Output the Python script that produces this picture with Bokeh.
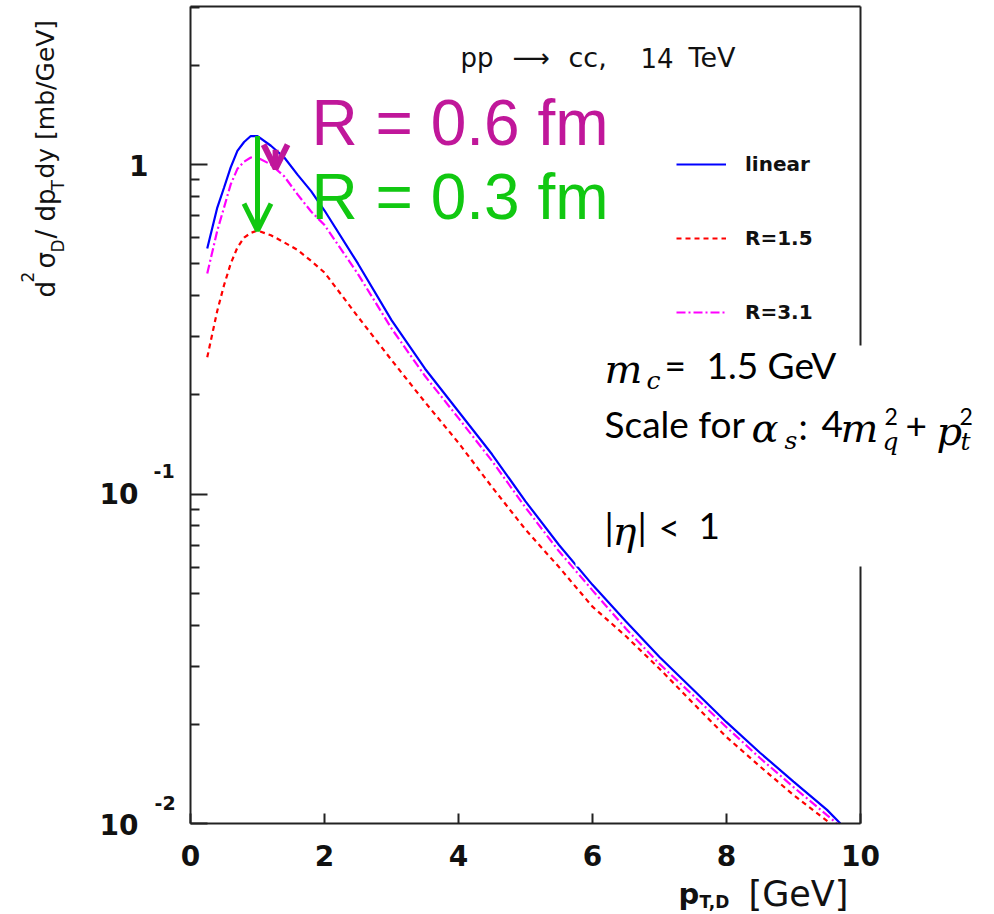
import numpy as np
from bokeh.plotting import figure
from bokeh.models import (Label, Arrow, OpenHead, Legend, LegendItem, BoxAnnotation,
                          FixedTicker, LinearAxis, LogAxis, Range1d)
from bokeh.embed import file_html
from bokeh.resources import INLINE

# ---------------- data ----------------
pt_linear = [0.25, 0.4, 0.5, 0.6, 0.7, 0.8, 0.9, 1.0, 1.2, 1.4, 1.6, 1.8, 2.0, 2.5,
             3.0, 3.5, 4.0, 4.5, 5.0, 5.5, 6.0, 6.5, 7.0, 7.5, 8.0, 8.5, 9.0, 9.5, 9.7]
sig_linear = [0.556, 0.74, 0.85, 0.98, 1.10, 1.17, 1.22, 1.22, 1.14, 1.05, 0.93, 0.83,
              0.725, 0.50, 0.337, 0.24, 0.178, 0.132, 0.095, 0.070, 0.053, 0.041,
              0.032, 0.0255, 0.0203, 0.0164, 0.0134, 0.0110, 0.0100]

pt_r15 = [0.25, 0.4, 0.5, 0.6, 0.7, 0.8, 0.9, 1.0, 1.2, 1.4, 1.6, 1.8, 2.0, 2.5,
          3.0, 3.5, 4.0, 4.5, 5.0, 5.5, 6.0, 6.5, 7.0, 7.5, 8.0, 8.5, 9.0, 9.55]
sig_r15 = [0.26, 0.36, 0.43, 0.50, 0.56, 0.60, 0.62, 0.63, 0.61, 0.58, 0.55, 0.51,
           0.47, 0.345, 0.255, 0.19, 0.143, 0.105, 0.078, 0.060, 0.0455, 0.037,
           0.0295, 0.0232, 0.0183, 0.0149, 0.0122, 0.0100]

pt_r31 = [0.25, 0.4, 0.5, 0.6, 0.7, 0.8, 0.9, 1.0, 1.2, 1.4, 1.6, 1.8, 2.0, 2.5,
          3.0, 3.5, 4.0, 4.5, 5.0, 5.5, 6.0, 6.5, 7.0, 7.5, 8.0, 8.5, 9.0, 9.5, 9.65]
sig_r31 = [0.467, 0.63, 0.74, 0.87, 0.97, 1.02, 1.05, 1.05, 1.00, 0.92, 0.81, 0.72,
           0.655, 0.465, 0.318, 0.228, 0.170, 0.126, 0.091, 0.067, 0.051, 0.039,
           0.0305, 0.0245, 0.0196, 0.0158, 0.0129, 0.0106, 0.0100]

legend_labels = ["linear", "R=1.5", "R=3.1"]
x_ticks = [0, 2, 4, 6, 8, 10]
y_major = [0.01, 0.1, 1.0]
x_lo, x_hi = 0.0, 10.0
y_lo, y_hi = 0.01, 3.02

# ---------------- geometry ----------------
W, H = 994, 914
PX_X0, PX_X10 = 190, 860        # pixel of x = 0 and x = 10
PX_Y_LO, PX_Y_1 = 823, 164      # pixel of y = 0.01 and y = 1
kx = (PX_X10 - PX_X0) / (x_hi - x_lo)
ky = (PX_Y_LO - PX_Y_1) / 2.0   # px per decade

x_range = Range1d(x_lo - PX_X0 / kx, x_lo + (W - PX_X0) / kx)
y_range = Range1d(10 ** (np.log10(y_lo) - (H - PX_Y_LO) / ky),
                  10 ** (np.log10(y_lo) + PX_Y_LO / ky))

p = figure(width=W, height=H, x_range=x_range, y_range=y_range,
           y_axis_type="log", x_axis_location=None, y_axis_location=None,
           output_backend="svg", toolbar_location=None,
           min_border=0, min_border_left=0, min_border_right=0,
           min_border_top=0, min_border_bottom=0)
p.grid.visible = False
p.outline_line_alpha = 0
p.background_fill_color = "white"
p.border_fill_color = "white"

AX = "#222222"
FONT = "DejaVu Sans"


def style_axis(ax):
    ax.axis_line_color = AX
    ax.axis_line_width = 2
    ax.major_tick_line_color = AX
    ax.major_tick_line_width = 2
    ax.minor_tick_line_color = AX
    ax.minor_tick_line_width = 2
    ax.major_tick_out = 0
    ax.minor_tick_out = 0


# bottom axis
xaxis = LinearAxis(ticker=FixedTicker(ticks=x_ticks, minor_ticks=[]),
                   fixed_location=y_lo, bounds=(x_lo, x_hi))
style_axis(xaxis)
xaxis.major_tick_in = 10
xaxis.major_label_text_font = FONT
xaxis.major_label_text_font_style = "bold"
xaxis.major_label_text_font_size = "28px"
xaxis.major_label_text_color = "#111111"
xaxis.major_label_standoff = 21
p.add_layout(xaxis, "below")

# left axis
minor_y = [m * d for d in y_major for m in range(2, 10) if m * d <= y_hi]
yaxis = LogAxis(ticker=FixedTicker(ticks=y_major, minor_ticks=minor_y),
                fixed_location=x_lo, bounds=(y_lo, y_hi))
style_axis(yaxis)
yaxis.major_tick_in = 17
yaxis.minor_tick_in = 9
yaxis.major_label_text_font_size = "0px"
yaxis.major_label_text_alpha = 0
p.add_layout(yaxis, "left")

# top and right frame lines (plain axes)
for loc, side, bnds, cls in ((y_hi, "above", (x_lo, x_hi), LinearAxis),
                             (x_hi, "right", (y_lo, y_hi), LogAxis)):
    ax = cls(ticker=FixedTicker(ticks=[], minor_ticks=[]), fixed_location=loc,
             bounds=bnds)
    style_axis(ax)
    ax.major_tick_in = 0
    ax.minor_tick_in = 0
    ax.major_label_text_font_size = "0px"
    p.add_layout(ax, side)

# ---------------- curves ----------------
r_lin = p.line(pt_linear, sig_linear, line_color="#0000ff", line_width=2.2)
r_15 = p.line(pt_r15, sig_r15, line_color="#ff0000", line_width=2.2, line_dash="5 4")
r_31 = p.line(pt_r31, sig_r31, line_color="#ff00ff", line_width=2.2, line_dash="9 3 2 3")


def sx(px):
    return px


def sy(py):
    return H - py


legend = Legend(items=[LegendItem(label=legend_labels[0], renderers=[r_lin]),
                       LegendItem(label=legend_labels[1], renderers=[r_15]),
                       LegendItem(label=legend_labels[2], renderers=[r_31])],
                location=(sx(676), sy(325)),
                glyph_width=50, glyph_height=26, label_height=26,
                label_standoff=19, spacing=48, padding=0, margin=0,
                border_line_alpha=0, background_fill_alpha=0,
                label_text_font=FONT, label_text_font_style="bold",
                label_text_font_size="20px", label_text_color="#111111")
p.add_layout(legend)

# ---------------- arrows (from curve values) ----------------
GREEN = "#11c811"
PURPLE = "#c0179a"
i_red_peak = int(np.argmax(sig_r15))
x_arrow = pt_r15[i_red_peak]
p.add_layout(Arrow(end=OpenHead(line_color=GREEN, line_width=5, size=27),
                   x_start=x_arrow, y_start=max(sig_linear),
                   x_end=x_arrow, y_end=sig_r15[i_red_peak],
                   line_color=GREEN, line_width=5))

x_m = 1.27
lg = lambda xs, ys: float(10 ** np.interp(x_m, xs, np.log10(ys)))
p.add_layout(Arrow(end=OpenHead(line_color=PURPLE, line_width=6, size=24),
                   x_start=x_m, y_start=lg(pt_linear, sig_linear),
                   x_end=x_m, y_end=lg(pt_r31, sig_r31),
                   line_color=PURPLE, line_width=6))

# white box of the pasted parameter annotation (hides part of the right frame)
p.add_layout(BoxAnnotation(left=sx(575), right=sx(1010), top=sy(345), bottom=sy(566),
                           left_units="screen", right_units="screen",
                           top_units="screen", bottom_units="screen",
                           fill_color="white", fill_alpha=1.0, line_alpha=0))


def lab(text, px, py, size, font=FONT, style="normal", color="#111111",
        align="left", angle=0.0):
    p.add_layout(Label(x=sx(px), y=sy(py), x_units="screen", y_units="screen",
                       text=text, text_font_size=f"{size}px", text_font=font,
                       text_font_style=style, text_color=color, text_align=align,
                       text_baseline="middle", angle=angle))


# y tick labels
lab("1", 148, 165, 28, style="bold", align="right")
lab("10", 138, 493, 28, style="bold", align="right")
lab("-1", 153, 470, 19, style="bold")
lab("10", 138, 824, 28, style="bold", align="right")
lab("-2", 154, 802, 19, style="bold")

# y axis title (rotated, reading upward)
ang = np.pi / 2
lab("d", 45, 297, 26, angle=ang)
lab("2", 27, 282, 17, angle=ang)
lab("σ", 45, 268, 26, angle=ang)
lab("D", 57, 252, 17, angle=ang)
lab("/ dp", 45, 238, 26, angle=ang)
lab("T", 57, 190, 17, angle=ang)
lab(" dy [mb/GeV]", 45, 178, 25, angle=ang)

# x axis title
lab("p", 678, 893, 29, style="bold")
lab("T,D", 699, 901, 17, style="bold")
lab("[GeV]", 748, 893, 35)

# title pieces
lab("pp", 460, 57, 26)
lab("⟶", 512, 57, 26)
lab("cc,", 568, 57, 27)
lab("14", 640, 57, 26)
lab("TeV", 688, 57, 27)

# big coloured annotations
lab("R = 0.6 fm", 311, 122, 64, font="Liberation Sans", color=PURPLE)
lab("R = 0.3 fm", 311, 196, 64, font="Liberation Sans", color=GREEN)

# LaTeX-like parameter box
SANS = "Lato"
SERIF = "DejaVu Serif"
K = "#000000"
lab("m", 604, 368, 40, font=SERIF, style="italic", color=K)
lab("c", 646, 380, 25, font=SERIF, style="italic", color=K)
lab("=", 664, 364, 37, font=SANS, color=K)
lab("1.5 GeV", 706, 364, 37, font=SANS, color=K)

lab("Scale for", 604, 423, 37, font=SANS, color=K)
lab("α", 751, 427, 40, font=SERIF, style="italic", color=K)
lab("s", 784, 440, 25, font=SERIF, style="italic", color=K)
lab(":", 798, 425, 37, font=SANS, color=K)
lab("4", 821, 423, 37, font=SANS, color=K)
lab("m", 840, 427, 40, font=SERIF, style="italic", color=K)
lab("2", 884, 416, 23, font=SANS, color=K)
lab("q", 882, 441, 25, font=SERIF, style="italic", color=K)
lab("+", 905, 425, 37, font=SANS, color=K)
lab("p", 936, 430, 40, font=SERIF, style="italic", color=K)
lab("2", 959, 416, 23, font=SANS, color=K)
lab("t", 960, 441, 25, font=SERIF, style="italic", color=K)

lab("|", 604, 526, 37, font=SANS, color=K)
lab("η", 612, 530, 40, font=SERIF, style="italic", color=K)
lab("|", 637, 526, 37, font=SANS, color=K)
lab("<", 658, 526, 37, font=SANS, color=K)
lab("1", 698, 525, 37, font=SANS, color=K)

open("out.html", "w").write(file_html(p, INLINE))
